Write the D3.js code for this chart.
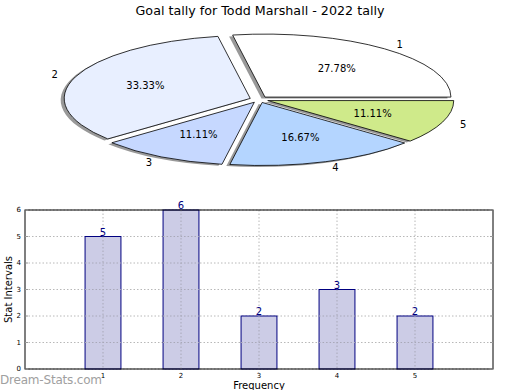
<!DOCTYPE html>
<html><head><meta charset="utf-8">
<script src="https://cdn.jsdelivr.net/npm/d3@7"></script>
<style>body{margin:0;background:#fff}svg{display:block;font-family:"DejaVu Sans",sans-serif}</style>
</head><body><svg id="c" width="520" height="390"></svg>
<script>
const title = "Goal tally for Todd Marshall - 2022 tally";
const categories = ["1","2","3","4","5"];
const values = [5,6,2,3,2];
const sliceColors = ["#ffffff","#e8efff","#c6d8ff","#b4d5ff","#cfea8a"];
const yTicks = [0,1,2,3,4,5,6];
const yLabel = "Stat Intervals";
const xLabel = "Frequency";
const watermark = "Dream-Stats.com";

const svg = d3.select("#c");

svg.append("text").attr("x",260).attr("y",15).attr("text-anchor","middle")
  .attr("font-size",12.7).text(title);

// ---- Pie (ellipse, exploded, shadowed) ----
const cx = 259, cy = 99.5, rx = 186, ry = 63, explode = 0.05;
const total = d3.sum(values);
const pie = d3.pie().sort(null).startAngle(Math.PI/2).endAngle(Math.PI/2 - 2*Math.PI);
const arcs = pie(values);
const arc = d3.arc().innerRadius(0).outerRadius(1);
const gPie = svg.append("g");
function mid(a){ return (a.startAngle + a.endAngle)/2; }
function off(a){ const m = mid(a); return [explode*rx*Math.sin(m), -explode*ry*Math.cos(m)]; }
gPie.selectAll("path.sh").data(arcs).join("path").attr("class","sh")
  .attr("d", d => arc({startAngle:d.endAngle,endAngle:d.startAngle}))
  .attr("transform", d => { const o = off(d); return `translate(${cx+o[0]-3.5},${cy+o[1]+1.5}) scale(${rx},${ry})`; })
  .attr("fill","#999999");
gPie.selectAll("path.sl").data(arcs).join("path").attr("class","sl")
  .attr("d", d => arc({startAngle:d.endAngle,endAngle:d.startAngle}))
  .attr("transform", d => { const o = off(d); return `translate(${cx+o[0]},${cy+o[1]}) scale(${rx},${ry})`; })
  .attr("fill",(d,i)=>sliceColors[i]).attr("stroke","#000").attr("stroke-width",0.8)
  .attr("vector-effect","non-scaling-stroke");
arcs.forEach((d,i)=>{
  const m = mid(d), o = off(d);
  const sx = Math.sin(m), sy = -Math.cos(m);
  const lx = cx+o[0]+1.1*rx*sx, ly = cy+o[1]+1.1*ry*sy;
  svg.append("text").attr("x",lx).attr("y",ly).attr("dy","0.35em")
    .attr("text-anchor", sx>0 ? "start":"end").attr("font-size",10).text(categories[i]);
  const px = cx+o[0]+0.6*rx*sx, py = cy+o[1]+0.6*ry*sy;
  svg.append("text").attr("x",px).attr("y",py).attr("dy","0.35em")
    .attr("text-anchor","middle").attr("font-size",10)
    .text((values[i]/total*100).toFixed(2)+"%");
});

// ---- Bar chart ----
const L=25, R=493, T=210, B=369;
const x = d3.scaleLinear().domain([0,categories.length+1]).range([L,R]);
const y = d3.scaleLinear().domain([0,6]).range([B,T]);
const g = svg.append("g");
categories.forEach((c,i)=>{
  g.append("line").attr("x1",x(i+1)).attr("x2",x(i+1)).attr("y1",T).attr("y2",B).attr("stroke","#b8b8b8").attr("stroke-dasharray","1.5,2");
});
yTicks.forEach(t=>{
  g.append("line").attr("x1",L).attr("x2",R).attr("y1",y(t)).attr("y2",y(t)).attr("stroke","#b8b8b8").attr("stroke-dasharray","1.5,2");
});
const bw = 0.46;
g.selectAll("rect.bar").data(values).join("rect").attr("class","bar")
  .attr("x",(d,i)=>x(i+1-bw/2)).attr("width",x(bw)-x(0))
  .attr("y",d=>y(d)).attr("height",d=>B-y(d))
  .attr("fill","#ccccE6").attr("stroke","#000080").attr("stroke-width",1);
categories.forEach((c,i)=>{
  g.append("line").attr("x1",x(i+1)).attr("x2",x(i+1)).attr("y1",y(values[i])).attr("y2",B).attr("stroke","#a8a8b8").attr("stroke-dasharray","1.5,2");
});
yTicks.forEach(t=>{
  values.forEach((v,i)=>{ if(t<v && t>0) g.append("line").attr("x1",x(i+1-bw/2)).attr("x2",x(i+1+bw/2)).attr("y1",y(t)).attr("y2",y(t)).attr("stroke","#a8a8b8").attr("stroke-dasharray","1.5,2"); });
});
g.selectAll("text.val").data(values).join("text").attr("class","val")
  .attr("x",(d,i)=>x(i+1)).attr("y",d=>y(d)-1).attr("text-anchor","middle")
  .attr("font-size",10).attr("fill","#000080").text(d=>d);
g.append("rect").attr("x",L).attr("y",T).attr("width",R-L).attr("height",B-T)
  .attr("fill","none").attr("stroke","#000").attr("stroke-width",1);
yTicks.forEach(t=>{
  g.append("text").attr("x",L-4).attr("y",y(t)).attr("dy","0.35em").attr("text-anchor","end").attr("font-size",7).text(t);
  g.append("line").attr("x1",L).attr("x2",L+3).attr("y1",y(t)).attr("y2",y(t)).attr("stroke","#999");
  g.append("line").attr("x1",R-3).attr("x2",R).attr("y1",y(t)).attr("y2",y(t)).attr("stroke","#999");
});
categories.forEach((c,i)=>{
  g.append("text").attr("x",x(i+1)).attr("y",B+9).attr("text-anchor","middle").attr("font-size",7).text(c);
});
svg.append("text").attr("transform",`translate(12,${(T+B)/2}) rotate(-90)`).attr("text-anchor","middle")
  .attr("font-size",10).text(yLabel);
svg.append("text").attr("x",(L+R)/2).attr("y",388.5).attr("text-anchor","middle").attr("font-size",10).text(xLabel);
svg.append("text").attr("x",0).attr("y",384).attr("font-size",12).attr("fill","#a0a0a0")
  .attr("font-family","'DejaVu Sans',sans-serif").attr("textLength",102).text(watermark);
</script></body></html>
